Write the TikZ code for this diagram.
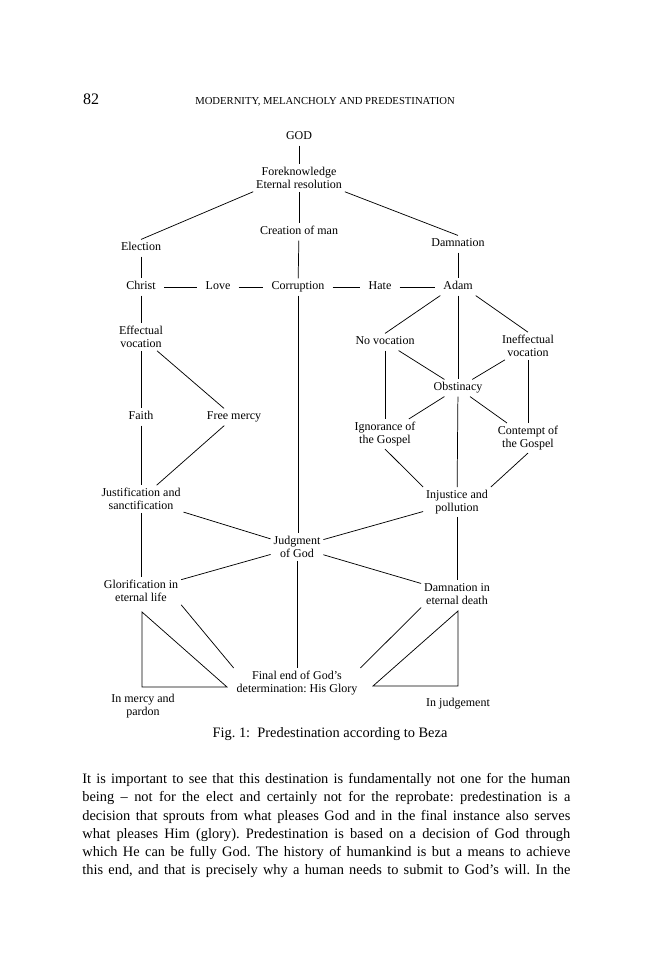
\documentclass[tikz,border=0pt]{standalone}
\usepackage{fontspec}
\setmainfont{Liberation Serif}
\usetikzlibrary{positioning,calc}

\newcommand{\diagfont}{\fontsize{9}{9.75}\selectfont}
\newcommand{\bodyfont}{\fontsize{10.8}{13.7}\selectfont}

\begin{document}
\frenchspacing
\begin{tikzpicture}[x=0.75pt, y=-0.75pt, line width=0.55pt]
  \tikzstyle{term}=[font=\diagfont, align=center, inner sep=2pt, text height=6.3pt, text depth=2pt]
  \tikzstyle{terms}=[font=\diagfont, align=center, inner sep=2pt]
  \tikzstyle{gap}=[shorten <=4pt, shorten >=4pt]
  \tikzstyle{body}=[font=\bodyfont, text width=366pt, align=justify, inner sep=0pt, anchor=north west]

  \fill[white] (0,0) rectangle (650,975);
  \useasboundingbox (0,0) rectangle (650,975);

  % Kopfzeile
  \node[font=\fontsize{12}{14}\selectfont] (folio) at (91,99) {82};
  \node[font=\fontsize{8}{10}\selectfont] (runhead) at (325,102) {MODERNITY, MELANCHOLY AND PREDESTINATION};

  % Oberer Teil
  \node[term] (god) at (299,137) {GOD};
  \node[terms] (fk) at (299,178) {Foreknowledge\\Eternal resolution};
  \node[term] (creat) at (299,232) {Creation of man};
  \node[term] (elec) at (141,248) {Election};
  \node[term] (damn) at (458,244) {Damnation};
  \node[term] (christ) at (141,287) {Christ};
  \node[term] (love) at (218,287) {Love};
  \node[term] (corr) at (298,287) {Corruption};
  \node[term] (hate) at (380,287) {Hate};
  \node[term] (adam) at (458,287) {Adam};

  % Linke Seite
  \node[terms] (eff) at (141,337) {Effectual\\vocation};
  \node[term] (faith) at (141,417) {Faith};
  \node[term] (freem) at (234,417) {Free mercy};
  \node[terms] (just) at (141,499) {Justification and\\sanctification};
  \node[terms] (glor) at (141,591) {Glorification in\\eternal life};
  \node[terms] (mercy) at (143,706) {In mercy and\\pardon};

  % Rechte Seite
  \node[term] (novoc) at (385,342) {No vocation};
  \node[terms] (ineff) at (528,346) {Ineffectual\\vocation};
  \node[term] (obst) at (458,388) {Obstinacy};
  \node[terms] (ignor) at (385,434) {Ignorance of\\the Gospel};
  \node[terms] (cont) at (528,438) {Contempt of\\the Gospel};
  \node[terms] (inj) at (457,502) {Injustice and\\pollution};
  \node[terms] (damnE) at (457,594) {Damnation in\\eternal death};
  \node[term] (judgmt) at (458,704) {In judgement};

  % Mitte
  \node[terms] (judg) at (297,547) {Judgment\\of God};
  \node[terms] (final) at (297,683) {Final end of God's\\determination: His Glory};

  % Verbindungen oben
  \draw (god) -- (fk);
  \draw (fk.south west) -- (elec.north);
  \draw (fk) -- (creat);
  \draw (fk.south east) -- (damn.north);
  \draw (elec) -- (christ);
  \draw (creat) -- (corr);
  \draw (damn) -- (adam);
  \draw[gap] (christ) -- (love);
  \draw[gap] (love) -- (corr);
  \draw[gap] (corr) -- (hate);
  \draw[gap] (hate) -- (adam);

  % Verbindungen links
  \draw (christ) -- (eff);
  \draw (eff) -- (faith);
  \draw (eff) -- (freem);
  \draw (faith) -- (just);
  \draw (freem) -- (just);
  \draw (just) -- (glor);

  % Verbindungen rechts
  \draw (adam.south west) -- (novoc.north);
  \draw (adam) -- (obst);
  \draw (adam.south east) -- (ineff.north);
  \draw (novoc) -- (obst);
  \draw (ineff) -- (obst);
  \draw (novoc) -- (ignor);
  \draw (ineff) -- (cont);
  \draw (obst) -- (ignor);
  \draw (obst) -- (cont);
  \draw (ignor.south) -- (inj.north west);
  \draw (cont.south) -- (inj.north east);
  \draw (obst) -- (inj);
  \draw (inj) -- (damnE);

  % Verbindungen Mitte
  \draw (corr) -- (corr |- judg.north);
  \draw (just) -- (judg);
  \draw (inj) -- (judg);
  \draw (judg) -- (glor);
  \draw (judg) -- (damnE);
  \draw (judg) -- (final);
  \draw (glor.south east) -- (final.north west);
  \draw (damnE.south west) -- (final.north east);

  % Dreiecke
  \draw (142,612) -- (142,687) -- (227,687) -- cycle;
  \draw (458,611) -- (458,686) -- (373,686) -- cycle;

  % Bildunterschrift und Text
  \node[font=\fontsize{10.8}{12}\selectfont] (caption) at (330,734) {Fig. 1:\ \ Predestination according to Beza};
  \node[body] (para) at (82,773) {%
    It is important to see that this destination is fundamentally not one for the human\linebreak
    being -- not for the elect and certainly not for the reprobate: predestination is a\linebreak
    decision that sprouts from what pleases God and in the final instance also serves\linebreak
    what pleases Him (glory). Predestination is based on a decision of God through\linebreak
    which He can be fully God. The history of humankind is but a means to achieve\linebreak
    this end, and that is precisely why a human needs to submit to God's will. In the{\parfillskip=0pt\par}};
\end{tikzpicture}
\end{document}
